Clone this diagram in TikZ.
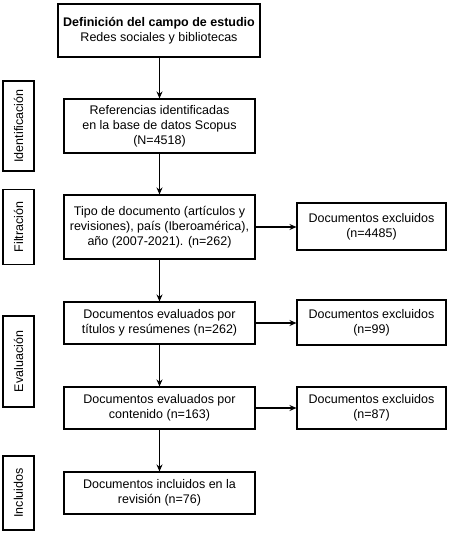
\documentclass[tikz,border=0pt]{standalone}
\usepackage{fontspec}
\setmainfont{Liberation Sans}
\usetikzlibrary{arrows.meta}
\begin{document}
\begin{tikzpicture}[x=1pt,y=1pt,
  box/.style={draw, line width=1.1pt, align=center, inner sep=2pt, font=\fontsize{12.5}{15}\selectfont},
  side/.style={draw, line width=1.1pt, rotate=90, align=center, inner sep=2pt, font=\fontsize{12.5}{15}\selectfont},
  conn/.style={line width=1.1pt, -{Stealth[length=7pt,width=6pt]}}]
\useasboundingbox (0,0) rectangle (450,-536);
\node[box, minimum width=202pt, minimum height=53pt] (top) at (159,-30.5) {\textbf{Definición del campo de estudio}\\Redes sociales y bibliotecas};
\node[box, minimum width=191pt, minimum height=54pt] (ref) at (159.5,-126) {Referencias identificadas\\en la base de datos Scopus\\(N=4518)};
\node[box, minimum width=191pt, minimum height=64pt] (tipo) at (159.5,-227) {Tipo de documento (artículos y\\revisiones), país (Iberoamérica),\\año (2007-2021). (n=262)};
\node[box, minimum width=149pt, minimum height=47pt] (ex1) at (371.5,-226.5) {Documentos excluidos\\(n=4485)};
\node[box, minimum width=191pt, minimum height=42pt] (tit) at (159.5,-323) {Documentos evaluados por\\títulos y resúmenes (n=262)};
\node[box, minimum width=149pt, minimum height=45pt] (ex2) at (371.5,-322.5) {Documentos excluidos\\(n=99)};
\node[box, minimum width=191pt, minimum height=42pt] (cont) at (159.5,-408) {Documentos evaluados por\\contenido (n=163)};
\node[box, minimum width=149pt, minimum height=42pt] (ex3) at (371.5,-408) {Documentos excluidos\\(n=87)};
\node[box, minimum width=191pt, minimum height=42pt] (fin) at (159.5,-493) {Documentos incluidos en la\\revisión (n=76)};
\node[side, minimum width=90pt, minimum height=31pt] (s1) at (18.5,-126) {Identificación};
\node[side, minimum width=75pt, minimum height=31pt] (s2) at (18.5,-227) {Filtración};
\node[side, minimum width=91pt, minimum height=31pt] (s3) at (18.5,-361.5) {Evaluación};
\node[side, minimum width=74pt, minimum height=31pt] (s4) at (18.5,-493) {Incluidos};
\draw[conn] (top.south -| ref.north) -- (ref.north);
\draw[conn] (ref) -- (tipo);
\draw[conn] (tipo) -- (tit);
\draw[conn] (tit) -- (cont);
\draw[conn] (cont) -- (fin);
\draw[conn] (tipo.east) -- (tipo.east -| ex1.west);
\draw[conn] (tit.east) -- (tit.east -| ex2.west);
\draw[conn] (cont.east) -- (cont.east -| ex3.west);
\end{tikzpicture}
\end{document}
